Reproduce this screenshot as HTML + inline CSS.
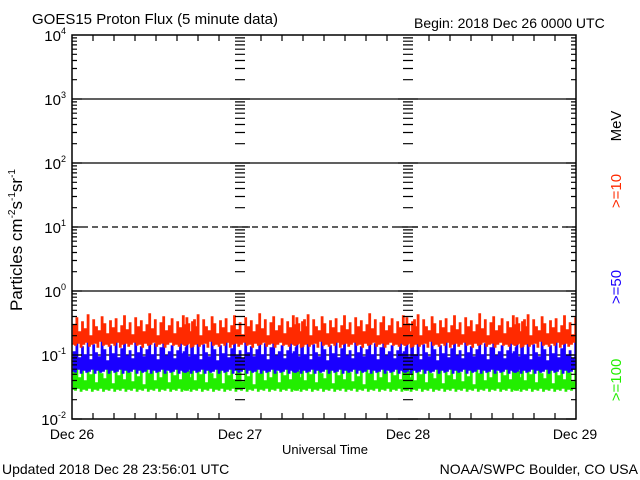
<!DOCTYPE html>
<html><head><meta charset="utf-8"><style>
html,body{margin:0;padding:0;background:#fff;}
svg{display:block;font-family:"Liberation Sans",sans-serif;}
</style></head><body>
<svg width="640" height="480" xmlns="http://www.w3.org/2000/svg" xmlns:xlink="http://www.w3.org/1999/xlink">
<defs>
<clipPath id="cp"><rect x="72" y="35" width="504" height="384"/></clipPath>
<path id="mR" d="M0,-19.3h5M0,-30.5h5M0,-38.5h5M0,-44.7h5M0,-49.8h5M0,-54.1h5M0,-57.8h5M0,-61.1h5M0,0h10" stroke="#000" stroke-width="1.2"/>
<path id="mL" d="M0,-19.3h-5M0,-30.5h-5M0,-38.5h-5M0,-44.7h-5M0,-49.8h-5M0,-54.1h-5M0,-57.8h-5M0,-61.1h-5M0,0h-10" stroke="#000" stroke-width="1.2"/>
<g id="col">
<use xlink:href="#mR" y="99"/><use xlink:href="#mR" y="163"/><use xlink:href="#mR" y="227"/><use xlink:href="#mR" y="291"/><use xlink:href="#mR" y="355"/><use xlink:href="#mR" y="419"/>
</g>
<g id="colL">
<use xlink:href="#mL" y="99"/><use xlink:href="#mL" y="163"/><use xlink:href="#mL" y="227"/><use xlink:href="#mL" y="291"/><use xlink:href="#mL" y="355"/><use xlink:href="#mL" y="419"/>
</g>
<path id="red" fill="none" stroke="#ff2a00" stroke-width="1.4" d="M0,344h1.4V325h1.4V345h1.4V318h1.4V343h1.4V332h1.4V347h1.4V322h1.4V344h1.4V329h1.4V342h1.4V315h1.4V346h1.4V336h1.4V344h1.4V320h1.4V343h1.4V327h1.4V347h1.4V331h1.4V341h1.4V317h1.4V345h1.4V324h1.4V344h1.4V334h1.4V346h1.4V321h1.4V343h1.4V328h1.4V345h1.4V319h1.4V342h1.4V333h1.4V347h1.4V326h1.4V344h1.4V316h1.4V343h1.4V330h1.4V346h1.4V323h1.4V344h1.4V335h1.4V342h1.4V318h1.4V345h1.4V327h1.4V344h1.4V321h1.4V347h1.4V332h1.4V343h1.4V325h1.4V345h1.4V314h1.4V344h1.4V329h1.4V342h1.4V320h1.4V346h1.4V336h1.4V344h1.4V323h1.4V343h1.4V317h1.4V347h1.4V331h1.4V344h1.4V326h1.4V342h1.4V319h1.4V345h1.4V334h1.4V344h1.4V322h1.4V346h1.4V328h1.4V343h1.4V316h1.4V345h1.4V330h1.4V344h1.4V324h1.4V342h1.4V333h1.4V346h1.4V320h1.4V344h1.4V327h1.4V344"/>
<path id="blue" fill="none" stroke="#1a00ff" stroke-width="1.4" d="M0,371h1.4V352h1.4V372h1.4V340h1.4V369h1.4V358h1.4V373h1.4V347h1.4V370h1.4V355h1.4V372h1.4V338h1.4V371h1.4V360h1.4V369h1.4V345h1.4V373h1.4V353h1.4V370h1.4V357h1.4V372h1.4V342h1.4V371h1.4V350h1.4V369h1.4V361h1.4V373h1.4V346h1.4V370h1.4V354h1.4V372h1.4V336h1.4V371h1.4V358h1.4V369h1.4V349h1.4V373h1.4V343h1.4V370h1.4V356h1.4V372h1.4V351h1.4V371h1.4V359h1.4V369h1.4V341h1.4V373h1.4V353h1.4V370h1.4V347h1.4V372h1.4V357h1.4V371h1.4V350h1.4V369h1.4V337h1.4V373h1.4V355h1.4V370h1.4V344h1.4V372h1.4V360h1.4V371h1.4V348h1.4V369h1.4V342h1.4V373h1.4V356h1.4V370h1.4V352h1.4V372h1.4V346h1.4V371h1.4V359h1.4V369h1.4V351h1.4V373h1.4V339h1.4V370h1.4V354h1.4V372h1.4V348h1.4V371h1.4V357h1.4V369h1.4V345h1.4V371"/>
<path id="green" fill="none" stroke="#22ee00" stroke-width="1.4" d="M0,389h1.4V372h1.4V390h1.4V360h1.4V388h1.4V378h1.4V391h1.4V366h1.4V389h1.4V381h1.4V390h1.4V357h1.4V388h1.4V375h1.4V391h1.4V369h1.4V389h1.4V383h1.4V390h1.4V362h1.4V388h1.4V374h1.4V391h1.4V379h1.4V389h1.4V365h1.4V390h1.4V371h1.4V388h1.4V384h1.4V391h1.4V358h1.4V389h1.4V376h1.4V390h1.4V368h1.4V388h1.4V380h1.4V391h1.4V363h1.4V389h1.4V373h1.4V390h1.4V382h1.4V388h1.4V356h1.4V391h1.4V377h1.4V389h1.4V367h1.4V390h1.4V385h1.4V388h1.4V361h1.4V391h1.4V374h1.4V389h1.4V370h1.4V390h1.4V381h1.4V388h1.4V364h1.4V391h1.4V378h1.4V389h1.4V359h1.4V390h1.4V372h1.4V388h1.4V383h1.4V391h1.4V366h1.4V389h1.4V376h1.4V390h1.4V362h1.4V388h1.4V380h1.4V391h1.4V369h1.4V389h1.4V384h1.4V390h1.4V371h1.4V389"/>
</defs>
<rect width="640" height="480" fill="#fff"/>
<text x="32" y="24" font-size="15">GOES15 Proton Flux (5 minute data)</text>
<text x="414" y="28" font-size="14">Begin: 2018 Dec 26 0000 UTC</text>
<g stroke="#000" stroke-width="1.3">
<line x1="72" y1="99" x2="576" y2="99"/>
<line x1="72" y1="163" x2="576" y2="163"/>
<line x1="72" y1="227" x2="576" y2="227" stroke-dasharray="6,4"/>
<line x1="72" y1="291" x2="576" y2="291"/>
<line x1="72" y1="355" x2="576" y2="355"/>
</g>
<g clip-path="url(#cp)">
<use xlink:href="#green" x="72"/><use xlink:href="#green" x="182"/><use xlink:href="#green" x="292"/><use xlink:href="#green" x="402"/><use xlink:href="#green" x="512"/>
<use xlink:href="#blue" x="72"/><use xlink:href="#blue" x="182"/><use xlink:href="#blue" x="292"/><use xlink:href="#blue" x="402"/><use xlink:href="#blue" x="512"/>
<use xlink:href="#red" x="72"/><use xlink:href="#red" x="182"/><use xlink:href="#red" x="292"/><use xlink:href="#red" x="402"/><use xlink:href="#red" x="512"/>
</g>
<use xlink:href="#col" x="72"/>
<use xlink:href="#col" x="240"/><use xlink:href="#colL" x="240"/>
<use xlink:href="#col" x="408"/><use xlink:href="#colL" x="408"/>
<use xlink:href="#colL" x="576"/>
<path stroke="#000" stroke-width="1.2" d="M93,419v-6M114,419v-6M135,419v-6M156,419v-6M177,419v-6M198,419v-6M219,419v-6M261,419v-6M282,419v-6M303,419v-6M324,419v-6M345,419v-6M366,419v-6M387,419v-6M429,419v-6M450,419v-6M471,419v-6M492,419v-6M513,419v-6M534,419v-6M555,419v-6M93,35v6M114,35v6M135,35v6M156,35v6M177,35v6M198,35v6M219,35v6M261,35v6M282,35v6M303,35v6M324,35v6M345,35v6M366,35v6M387,35v6M429,35v6M450,35v6M471,35v6M492,35v6M513,35v6M534,35v6M555,35v6"/>
<rect x="72" y="35" width="504" height="384" fill="none" stroke="#000" stroke-width="1.5"/>
<g font-size="15" text-anchor="end">
<text x="66" y="41">10<tspan font-size="9" dy="-7">4</tspan></text>
<text x="66" y="105">10<tspan font-size="9" dy="-7">3</tspan></text>
<text x="66" y="169">10<tspan font-size="9" dy="-7">2</tspan></text>
<text x="66" y="233">10<tspan font-size="9" dy="-7">1</tspan></text>
<text x="66" y="297">10<tspan font-size="9" dy="-7">0</tspan></text>
<text x="66" y="361">10<tspan font-size="9" dy="-7">-1</tspan></text>
<text x="66" y="425">10<tspan font-size="9" dy="-7">-2</tspan></text>
</g>
<text transform="translate(22,240) rotate(-90)" font-size="17" text-anchor="middle">Particles cm<tspan font-size="10" dy="-7">-2</tspan><tspan dy="7">s</tspan><tspan font-size="10" dy="-7">-1</tspan><tspan dy="7">sr</tspan><tspan font-size="10" dy="-7">-1</tspan></text>
<g font-size="14" text-anchor="middle">
<text x="72" y="439">Dec 26</text><text x="240" y="439">Dec 27</text><text x="408" y="439">Dec 28</text><text x="575" y="439">Dec 29</text>
<text x="325" y="454" font-size="13">Universal Time</text>
</g>
<text x="2" y="474" font-size="14">Updated 2018 Dec 28 23:56:01 UTC</text>
<text x="638" y="474" font-size="14" text-anchor="end">NOAA/SWPC Boulder, CO USA</text>
<g font-size="15" text-anchor="middle">
<text transform="translate(621,126) rotate(-90)" fill="#000">MeV</text>
<text transform="translate(621,191) rotate(-90)" fill="#ff2a00">&gt;=10</text>
<text transform="translate(621,287) rotate(-90)" fill="#1a00ff">&gt;=50</text>
<text transform="translate(621,380) rotate(-90)" fill="#22ee00">&gt;=100</text>
</g>
</svg>
</body></html>
